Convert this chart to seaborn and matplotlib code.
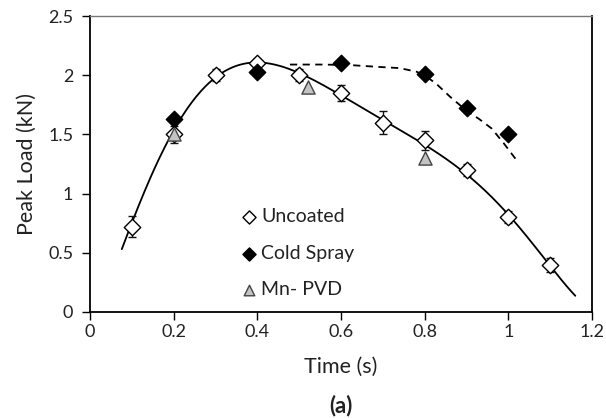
import numpy as np
import pandas as pd
import matplotlib
matplotlib.use("Agg")
import matplotlib.pyplot as plt
import seaborn as sns

# ---- data ----
unc_t = [0.1, 0.2, 0.3, 0.4, 0.5, 0.6, 0.7, 0.8, 0.9, 1.0, 1.1]
unc_load = [0.72, 1.50, 2.00, 2.10, 2.00, 1.85, 1.60, 1.45, 1.20, 0.80, 0.40]
unc_err = [0.09, 0.07, 0.05, 0.04, 0.05, 0.07, 0.10, 0.08, 0.05, 0.05, 0.06]

cs_t = [0.2, 0.4, 0.6, 0.8, 0.9, 1.0]
cs_load = [1.63, 2.03, 2.10, 2.01, 1.72, 1.50]

pvd_t = [0.2, 0.52, 0.8]
pvd_load = [1.50, 1.90, 1.30]

# solid trendline for Uncoated
unc_line_t = [0.076, 0.10, 0.15, 0.20, 0.25, 0.30, 0.35, 0.40, 0.45, 0.50, 0.55,
              0.60, 0.65, 0.70, 0.75, 0.80, 0.85, 0.90, 0.95, 1.00, 1.05, 1.10, 1.16]
unc_line_load = [0.552, 0.72, 1.185, 1.54, 1.80, 1.985, 2.085, 2.105, 2.075, 2.015, 1.93,
                 1.83, 1.73, 1.625, 1.52, 1.41, 1.30, 1.17, 1.00, 0.805, 0.615, 0.405, 0.13]

# dashed guide line for Cold Spray
cs_line_t = [0.478, 0.55, 0.62, 0.69, 0.74, 0.78, 0.80, 0.83, 0.86, 0.90, 0.93, 0.96, 0.99, 1.02]
cs_line_load = [2.09, 2.09, 2.086, 2.07, 2.06, 2.03, 2.0, 1.92, 1.82, 1.70, 1.63, 1.55, 1.42, 1.28]

x_ticks = [0, 0.2, 0.4, 0.6, 0.8, 1.0, 1.2]
x_ticklabels = ["0", "0.2", "0.4", "0.6", "0.8", "1", "1.2"]
y_ticks = [0, 0.5, 1.0, 1.5, 2.0, 2.5]
y_ticklabels = ["0", "0.5", "1", "1.5", "2", "2.5"]

sns.set_style("white")
plt.rcParams['font.family'] = ['Lato', 'DejaVu Sans']
TXT = "#222222"

fig = plt.figure(figsize=(6.06, 4.18), dpi=100)
ax = fig.add_axes([0.1485, 0.2536, 0.977 - 0.1485, 0.9617 - 0.2536])

# smooth the read trendline points (the original is a polynomial trendline)
coef = np.polyfit(unc_line_t, unc_line_load, 6)
tt = np.linspace(min(unc_line_t), max(unc_line_t), 300)
unc_line_df = pd.DataFrame({"t": tt, "load": np.polyval(coef, tt)})
sns.lineplot(data=unc_line_df, x="t", y="load", ax=ax, color="black", lw=1.3,
             sort=False, zorder=2)

cs_line_df = pd.DataFrame({"t": cs_line_t, "load": cs_line_load})
sns.lineplot(data=cs_line_df, x="t", y="load", ax=ax, color="black", lw=1.3,
             sort=False, linestyle=(0, (4, 3)), zorder=2)

ax.errorbar(unc_t, unc_load, yerr=unc_err, fmt="none", ecolor="#111111",
            elinewidth=1.0, capsize=3, capthick=1.0, zorder=3)

unc_df = pd.DataFrame({"t": unc_t, "load": unc_load})
cs_df = pd.DataFrame({"t": cs_t, "load": cs_load})
pvd_df = pd.DataFrame({"t": pvd_t, "load": pvd_load})

sns.scatterplot(data=unc_df, x="t", y="load", ax=ax, marker="D", s=70,
                facecolor="white", edgecolor="black", linewidth=1.0, zorder=4,
                label="Uncoated")
sns.scatterplot(data=cs_df, x="t", y="load", ax=ax, marker="D", s=70,
                color="black", edgecolor="black", linewidth=1.0, zorder=4,
                label="Cold Spray")
sns.scatterplot(data=pvd_df, x="t", y="load", ax=ax, marker="^", s=90,
                color="#c3c3c3", edgecolor="#444444", linewidth=1.0, zorder=4,
                label="Mn- PVD")

ax.set_xlim(0, 1.2)
ax.set_ylim(0, 2.5)
ax.set_xticks(x_ticks)
ax.set_xticklabels(x_ticklabels)
ax.set_yticks(y_ticks)
ax.set_yticklabels(y_ticklabels)
ax.tick_params(axis="both", direction="out", length=6, width=1.0, color="black",
               labelsize=13, labelcolor=TXT, left=True, bottom=True)
ax.tick_params(axis="x", pad=3)
ax.tick_params(axis="y", pad=6)
for side in ["left", "bottom", "right"]:
    ax.spines[side].set_color("black")
    ax.spines[side].set_linewidth(1.3)
ax.spines["top"].set_color("#777777")
ax.spines["top"].set_linewidth(1.0)

ax.set_xlabel("Time (s)", fontsize=15.5, color=TXT, labelpad=12)
ax.set_ylabel("Peak Load (kN)", fontsize=15.5, color=TXT, labelpad=8)

fig.text(0.1485 + (0.977 - 0.1485) / 2, 1 - 406 / 418, "(a)", ha="center", va="center",
         fontsize=16, fontweight="bold", color=TXT)

leg = ax.legend(loc="upper left", bbox_to_anchor=(0.297, 0.35), frameon=False,
                fontsize=14, labelspacing=1.0, handletextpad=0.15,
                handlelength=1.0, borderaxespad=0, borderpad=0, markerscale=0.8)
for t in leg.get_texts():
    t.set_color(TXT)

fig.savefig("out.png", dpi=100)
